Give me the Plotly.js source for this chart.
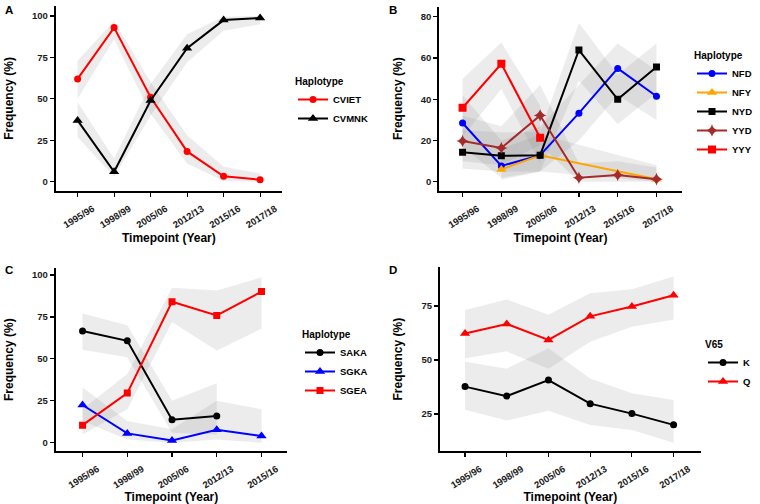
<!DOCTYPE html>
<html><head><meta charset="utf-8">
<script src="https://cdn.plot.ly/plotly-3.0.1.min.js"></script>
<style>html,body{margin:0;padding:0;background:#fff}#chart{width:760px;height:504px}</style>
</head><body><div id="chart"></div>
<script>
// ---------- Data ----------
const yearsA = ["1995/96","1998/99","2005/06","2012/13","2015/16","2017/18"];
const cvietY  = [62, 93, 51, 18.3, 3.3, 1.2];
const cvietLo = [50, 86, 41, 11, 0.5, 0];
const cvietHi = [73, 97, 60, 28, 9, 5];
const cvmnkY  = [37, 6, 49, 80.5, 97.5, 98.8];
const cvmnkLo = [27, 3, 40, 72, 91, 95];
const cvmnkHi = [48, 14, 59, 89, 99.5, 100];

const yearsB = ["1995/96","1998/99","2005/06","2012/13","2015/16","2017/18"];
const nfdY  = [28.5, 7.7, 12.9, 33.3, 55, 41.5];
const nfdLo = [17, 2, 5, 20, 42, 30];
const nfdHi = [42, 20, 27, 47, 67, 54];
const nfyX  = ["1998/99","2005/06","2017/18"];
const nfyY  = [6, 12.9, 1.3];
const nfyLo = [1, 5, 0];
const nfyHi = [16, 23, 8];
const nydY  = [14.3, 12.6, 12.9, 63.9, 40, 55.7];
const nydLo = [6.5, 5, 5, 49, 28, 43];
const nydHi = [25, 24, 24, 77, 52, 67];
const yydY  = [19.8, 16.4, 32.2, 2, 3.3, 1.3];
const yydLo = [10, 8, 18, 0, 0, 0];
const yydHi = [32, 27, 47, 9, 10, 7];
const yyyX  = ["1995/96","1998/99","2005/06"];
const yyyY  = [35.9, 57.2, 21.4];
const yyyLo = [22, 45, 9];
const yyyHi = [50, 67.5, 37];

const yearsC = ["1995/96","1998/99","2005/06","2012/13","2015/16"];
const sakaX  = ["1995/96","1998/99","2005/06","2012/13"];
const sakaY  = [66.6, 60.8, 13.7, 15.9];
const sakaLo = [55.5, 51, 6, 5];
const sakaHi = [77, 70, 25, 35.5];
const sgkaY  = [22.5, 5.6, 1.4, 7.8, 4];
const sgkaLo = [13, 2, 0, 2, 0];
const sgkaHi = [33, 13, 8, 25, 20];
const sgeaY  = [10.5, 29.6, 84.1, 75.9, 90.1];
const sgeaLo = [5, 20, 72, 55, 68];
const sgeaHi = [20, 41, 92.4, 90.7, 98.6];

const yearsD = ["1995/96","1998/99","2005/06","2012/13","2015/16","2017/18"];
const kY  = [37.7, 33.3, 40.7, 29.8, 25.2, 20.0];
const kLo = [27, 22, 26.5, 19.9, 17.6, 11.7];
const kHi = [49.2, 46, 55.4, 41.5, 34.6, 31.5];
const qY  = [62.3, 66.7, 59.3, 70.2, 74.8, 80.0];
const qLo = [50.8, 54, 46, 58.5, 65.4, 68.8];
const qHi = [73.1, 78, 71, 80.9, 82.7, 88.6];

// ---------- Helpers ----------
const W = 760, H = 504;
const px = v => v / W;
const py = v => 1 - v / H;
const FONT = "Liberation Sans, Arial, Helvetica, sans-serif";
const RIB = "rgba(127,127,127,0.15)";

function ribbon(x, lo, hi, xa, ya) {
  return {x: x.concat(x.slice().reverse()), y: hi.concat(lo.slice().reverse()),
    type: "scatter", mode: "lines", fill: "toself", fillcolor: RIB,
    line: {width: 0, color: "rgba(0,0,0,0)"}, hoverinfo: "skip", showlegend: false,
    xaxis: xa, yaxis: ya};
}
function series(name, x, y, color, symbol, size, xa, ya, leg) {
  return {name: name, x: x, y: y, type: "scatter", mode: "lines+markers",
    line: {color: color, width: 2}, marker: {color: color, symbol: symbol, size: size},
    xaxis: xa, yaxis: ya, legend: leg};
}

const traces = [
  ribbon(yearsA, cvietLo, cvietHi, "x", "y"),
  ribbon(yearsA, cvmnkLo, cvmnkHi, "x", "y"),
  series("CVIET", yearsA, cvietY, "#FF0000", "circle", 7, "x", "y", "legend"),
  series("CVMNK", yearsA, cvmnkY, "#000000", "triangle-up", 9, "x", "y", "legend"),

  ribbon(yearsB, nfdLo, nfdHi, "x2", "y2"),
  ribbon(nfyX, nfyLo, nfyHi, "x2", "y2"),
  ribbon(yearsB, nydLo, nydHi, "x2", "y2"),
  ribbon(yearsB, yydLo, yydHi, "x2", "y2"),
  ribbon(yyyX, yyyLo, yyyHi, "x2", "y2"),
  series("NFD", yearsB, nfdY, "#0000FF", "circle", 7, "x2", "y2", "legend2"),
  series("NFY", nfyX, nfyY, "#FFA500", "triangle-up", 9, "x2", "y2", "legend2"),
  series("NYD", yearsB, nydY, "#000000", "square", 7, "x2", "y2", "legend2"),
  series("YYD", yearsB, yydY, "#A52A2A", "star-diamond", 9, "x2", "y2", "legend2"),
  series("YYY", yyyX, yyyY, "#FF0000", "square", 8, "x2", "y2", "legend2"),

  ribbon(sakaX, sakaLo, sakaHi, "x3", "y3"),
  ribbon(yearsC, sgkaLo, sgkaHi, "x3", "y3"),
  ribbon(yearsC, sgeaLo, sgeaHi, "x3", "y3"),
  series("SAKA", sakaX, sakaY, "#000000", "circle", 7, "x3", "y3", "legend3"),
  series("SGKA", yearsC, sgkaY, "#0000FF", "triangle-up", 9, "x3", "y3", "legend3"),
  series("SGEA", yearsC, sgeaY, "#FF0000", "square", 7, "x3", "y3", "legend3"),

  ribbon(yearsD, kLo, kHi, "x4", "y4"),
  ribbon(yearsD, qLo, qHi, "x4", "y4"),
  series("K", yearsD, kY, "#000000", "circle", 7, "x4", "y4", "legend4"),
  series("Q", yearsD, qY, "#FF0000", "triangle-up", 9, "x4", "y4", "legend4")
];

const tickFont = {family: FONT, size: 9.5, color: "#1a1a1a", weight: "bold"};
const titleFont = {family: FONT, size: 12, color: "#000", weight: "bold"};

function xax(dom, cats, rng, anchor) {
  return {domain: dom, anchor: anchor, type: "category", categoryorder: "array", categoryarray: cats,
    range: rng, showgrid: false, zeroline: false, showline: true, linewidth: 2, linecolor: "#000",
    ticks: "outside", ticklen: 4, tickwidth: 1.2, tickcolor: "#000", tickangle: -32,
    ticklabelshift: 15, ticklabelstandoff: 3,
    tickfont: tickFont, automargin: false,
    title: {text: "Timepoint (Year)", font: titleFont, standoff: 4}};
}
function yax(dom, rng, tv, anchor) {
  return {domain: dom, anchor: anchor, range: rng, tickvals: tv, ticktext: tv.map(String),
    showgrid: false, zeroline: false, showline: true, linewidth: 2, linecolor: "#000",
    ticks: "outside", ticklen: 4, tickwidth: 1.2, tickcolor: "#000",
    tickfont: tickFont, automargin: false,
    title: {text: "Frequency (%)", font: titleFont, standoff: 16}};
}
function leg(x, y, title) {
  return {x: px(x), y: py(y), xanchor: "left", yanchor: "top", bgcolor: "rgba(0,0,0,0)",
    font: {family: FONT, size: 9.5, color: "#000", weight: "bold"}, itemwidth: 30,
    title: {text: title, font: {family: FONT, size: 10, color: "#000", weight: "bold"}},
    traceorder: "normal"};
}

const layout = {
  width: W, height: H, margin: {l: 0, r: 0, t: 0, b: 0},
  paper_bgcolor: "#fff", plot_bgcolor: "rgba(0,0,0,0)",
  font: {family: FONT},
  xaxis:  xax([px(55.7), px(282)], yearsA, [-0.6, 5.6], "y"),
  yaxis:  yax([py(190.7), py(6)], [-5.4, 106], [0, 25, 50, 75, 100], "x"),
  xaxis2: xax([px(439.3), px(681.7)], yearsB, [-0.6, 5.65], "y2"),
  yaxis2: yax([py(190.7), py(6.7)], [-4.3, 84.9], [0, 20, 40, 60, 80], "x2"),
  xaxis3: xax([px(55.7), px(287)], yearsC, [-0.6, 4.57], "y3"),
  yaxis3: yax([py(451), py(268.3)], [-4.9, 104], [0, 25, 50, 75, 100], "x3"),
  xaxis4: xax([px(440), px(700.7)], yearsD, [-0.6, 5.65], "y4"),
  yaxis4: yax([py(451), py(267.3)], [7.9, 92.9], [25, 50, 75], "x4"),
  legend:  leg(293, 72, "Haplotype"),
  legend2: leg(692, 46, "Haplotype"),
  legend3: leg(300, 325, "Haplotype"),
  legend4: leg(703, 335, "V65"),
  showlegend: true,
  annotations: [
    {text: "A", x: px(3), y: py(2)},
    {text: "B", x: px(387), y: py(2)},
    {text: "C", x: px(3), y: py(262)},
    {text: "D", x: px(387), y: py(262)}
  ].map(a => Object.assign(a, {xref: "paper", yref: "paper", xanchor: "left", yanchor: "top",
      showarrow: false, font: {family: FONT, size: 11.5, color: "#000", weight: "bold"}}))
};

Plotly.newPlot("chart", traces, layout, {staticPlot: true, displayModeBar: false});
</script>
</body></html>
